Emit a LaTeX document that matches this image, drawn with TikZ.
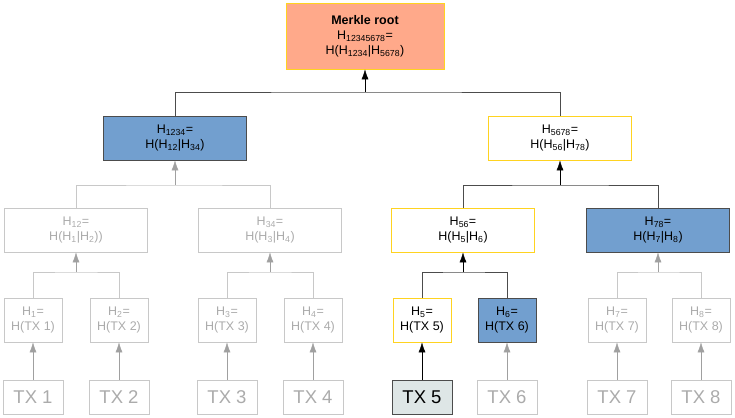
\documentclass[tikz,border=0pt]{standalone}
\usepackage{fontspec}
\setmainfont{Liberation Sans}
\usetikzlibrary{arrows.meta}
\definecolor{rootfill}{HTML}{FFA98A}
\definecolor{bluefill}{HTML}{729FCF}
\definecolor{yel}{HTML}{FFD320}
\definecolor{txfill}{HTML}{DEE6E6}
\definecolor{greytext}{HTML}{ABABAB}
\definecolor{greyline}{HTML}{C8C8C8}
\newcommand\hsub[1]{\textsubscript{#1}}
\tikzset{
  hash/.style={draw, thick, minimum height=44pt, align=center, inner sep=1pt, font=\fontsize{12.5}{15}\selectfont},
  used/.style={hash, draw=yel, fill=white},
  given/.style={hash, draw=black!70, fill=bluefill},
  faded/.style={hash, draw=greyline, text=greytext},
  tx/.style={draw, thick, minimum width=60pt, minimum height=34pt, font=\fontsize{18.5}{20}\selectfont},
  link/.style={draw=black!70},
  flink/.style={draw=greyline},
  up/.style={-{Latex[length=10pt,width=7pt]}, black},
  fup/.style={-{Latex[length=10pt,width=7pt]}, greyline!80!black},
}
\begin{document}
\begin{tikzpicture}[x=1pt,y=1pt]
  \useasboundingbox (0,0) rectangle (735,-417);
  % root
  \node[hash, draw=yel, fill=rootfill, minimum width=158pt, minimum height=66pt] (root) at (365,-36)
    {\textbf{Merkle root}\\H\hsub{12345678}=\\H(H\hsub{1234}|H\hsub{5678})};
  % level 1
  \node[given, minimum width=143pt] (h1234) at (175,-138) {H\hsub{1234}=\\H(H\hsub{12}|H\hsub{34})};
  \node[used, minimum width=143pt] (h5678) at (560,-138) {H\hsub{5678}=\\H(H\hsub{56}|H\hsub{78})};
  % level 2
  \node[faded, minimum width=143pt] (h12) at (76,-230) {H\hsub{12}=\\H(H\hsub{1}|H\hsub{2}))};
  \node[faded, minimum width=143pt] (h34) at (270,-230) {H\hsub{34}=\\H(H\hsub{3}|H\hsub{4})};
  \node[used, minimum width=143pt] (h56) at (463,-230) {H\hsub{56}=\\H(H\hsub{5}|H\hsub{6})};
  \node[given, minimum width=143pt] (h78) at (658,-230) {H\hsub{78}=\\H(H\hsub{7}|H\hsub{8})};
  % level 3
  \node[faded, minimum width=58pt] (h1) at (33,-320) {H\hsub{1}=\\H(TX 1)};
  \node[faded, minimum width=58pt] (h2) at (119,-320) {H\hsub{2}=\\H(TX 2)};
  \node[faded, minimum width=58pt] (h3) at (227,-320) {H\hsub{3}=\\H(TX 3)};
  \node[faded, minimum width=58pt] (h4) at (313,-320) {H\hsub{4}=\\H(TX 4)};
  \node[used, minimum width=58pt] (h5) at (422,-320) {H\hsub{5}=\\H(TX 5)};
  \node[given, minimum width=58pt] (h6) at (507,-320) {H\hsub{6}=\\H(TX 6)};
  \node[faded, minimum width=58pt] (h7) at (617,-320) {H\hsub{7}=\\H(TX 7)};
  \node[faded, minimum width=58pt] (h8) at (701,-320) {H\hsub{8}=\\H(TX 8)};
  % transactions
  \foreach \i/\x in {1/33,2/119,3/227,4/313,6/507,7/617,8/701}{
    \node[tx, draw=greyline, text=greytext] (tx\i) at (\x,-397) {TX \i};
    \draw[fup] (tx\i) -- (h\i);
  }
  \node[tx, draw=black!70, fill=txfill] (tx5) at (422,-397) {TX 5};
  \draw[up] (tx5) -- (h5);
  % junctions
  \coordinate (jroot) at (365,-92);
  \coordinate (j1234) at (175,-185);
  \coordinate (j5678) at (560,-185);
  \coordinate (j12) at (76,-272);
  \coordinate (j34) at (270,-272);
  \coordinate (j56) at (463,-272);
  \coordinate (j78) at (658,-272);
  % tree links
  \draw[link] (h1234.north) |- (jroot) -| (h5678.north);
  \draw[up] (jroot) -- (root);
  \draw[flink] (h12.north) |- (j1234) -| (h34.north);
  \draw[fup] (j1234) -- (h1234);
  \draw[link] (h56.north) |- (j5678) -| (h78.north);
  \draw[up] (j5678) -- (h5678);
  \draw[flink] (h1.north) |- (j12) -| (h2.north);
  \draw[fup] (j12) -- (h12);
  \draw[flink] (h3.north) |- (j34) -| (h4.north);
  \draw[fup] (j34) -- (h34);
  \draw[link] (h5.north) |- (j56) -| (h6.north);
  \draw[up] (j56) -- (h56);
  \draw[flink] (h7.north) |- (j78) -| (h8.north);
  \draw[fup] (j78) -- (h78);
\end{tikzpicture}
\end{document}
